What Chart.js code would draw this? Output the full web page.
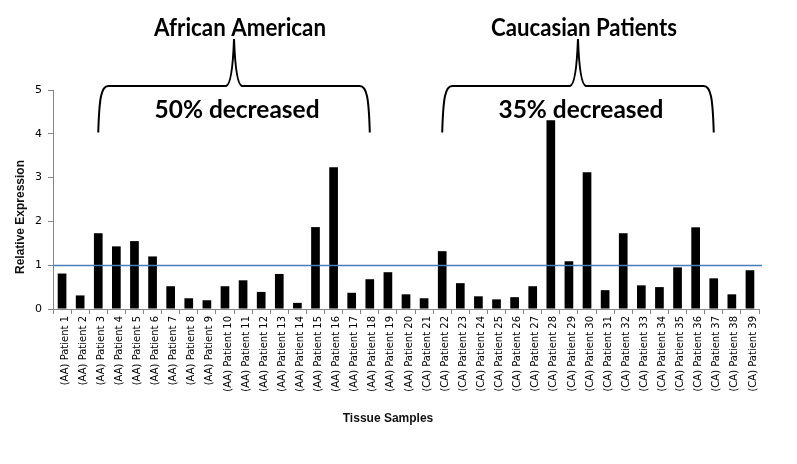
<!DOCTYPE html>
<html lang="en">
<head>
  <meta charset="UTF-8">
  <title>Relative Expression – Tissue Samples</title>
  <script src="https://cdn.jsdelivr.net/npm/chart.js"></script>
  <style>
    body { margin: 0; background: #fff; }
    canvas { display: block; }
  </style>
</head>
<body>
  <canvas id="chart" width="797" height="464"></canvas>

  <script>
    // data
    const categories = [
      '(AA) Patient 1', '(AA) Patient 2', '(AA) Patient 3', '(AA) Patient 4', '(AA) Patient 5',
      '(AA) Patient 6', '(AA) Patient 7', '(AA) Patient 8', '(AA) Patient 9', '(AA) Patient 10',
      '(AA) Patient 11', '(AA) Patient 12', '(AA) Patient 13', '(AA) Patient 14', '(AA) Patient 15',
      '(AA) Patient 16', '(AA) Patient 17', '(AA) Patient 18', '(AA) Patient 19', '(AA) Patient 20',
      '(CA) Patient 21', '(CA) Patient 22', '(CA) Patient 23', '(CA) Patient 24', '(CA) Patient 25',
      '(CA) Patient 26', '(CA) Patient 27', '(CA) Patient 28', '(CA) Patient 29', '(CA) Patient 30',
      '(CA) Patient 31', '(CA) Patient 32', '(CA) Patient 33', '(CA) Patient 34', '(CA) Patient 35',
      '(CA) Patient 36', '(CA) Patient 37', '(CA) Patient 38', '(CA) Patient 39'
    ];
    const expression = [
      0.81, 0.31, 1.73, 1.43, 1.55, 1.20, 0.52, 0.245, 0.20, 0.52,
      0.655, 0.39, 0.80, 0.14, 1.87, 3.235, 0.37, 0.68, 0.84, 0.335,
      0.245, 1.32, 0.59, 0.29, 0.22, 0.27, 0.52, 4.31, 1.09, 3.12,
      0.43, 1.73, 0.54, 0.50, 0.95, 1.865, 0.70, 0.335, 0.885
    ];
    const yTicks = [0, 1, 2, 3, 4, 5];
    const referenceLevel = 1;

    const groupTitles = ['African American', 'Caucasian Patients'];
    const groupNotes = ['50% decreased', '35% decreased'];
    const groupSpans = [[2, 17], [21, 36]];   // first / last category under each brace

    const xTitle = 'Tissue Samples';
    const yTitle = 'Relative Expression';

    function fitText(ctx, text, cx, baseline, width) {
      const w = ctx.measureText(text).width;
      ctx.save();
      ctx.translate(cx, baseline);
      ctx.scale(width / w, 1);
      ctx.textAlign = 'center';
      ctx.textBaseline = 'alphabetic';
      ctx.fillText(text, 0, 0);
      ctx.restore();
    }

    function brace(ctx, x0, x1, yb, yt, yp) {
      const xm = (x0 + x1) / 2;
      ctx.beginPath();
      ctx.moveTo(x0, yb);
      ctx.bezierCurveTo(x0 + 1, yt + 12, x0 + 3, yt, x0 + 10, yt);
      ctx.lineTo(xm - 8, yt);
      ctx.bezierCurveTo(xm - 3, yt - 1, xm - 1, yt - 20, xm, yp);
      ctx.bezierCurveTo(xm + 1, yt - 20, xm + 3, yt - 1, xm + 8, yt);
      ctx.lineTo(x1 - 10, yt);
      ctx.bezierCurveTo(x1 - 3, yt, x1 - 1, yt + 12, x1, yb);
      ctx.stroke();
    }

    const overlay = {
      id: 'overlay',
      afterDatasetsDraw(chart) {
        const { ctx, chartArea, scales: { x, y } } = chart;
        // reference line at 1
        const ly = Math.round(y.getPixelForValue(referenceLevel)) + 0.5;
        ctx.save();
        ctx.strokeStyle = '#4a7ebb';
        ctx.lineWidth = 1.3;
        ctx.beginPath();
        ctx.moveTo(chartArea.left, ly);
        ctx.lineTo(chartArea.right + 3, ly);
        ctx.stroke();
        ctx.restore();
      },
      afterDraw(chart) {
        const { ctx, scales: { x } } = chart;
        ctx.save();
        ctx.fillStyle = '#000';
        ctx.strokeStyle = '#000';
        ctx.lineWidth = 2;
        groupSpans.forEach((span, i) => {
          const x0 = x.getPixelForValue(span[0]);
          const x1 = x.getPixelForValue(span[1]);
          brace(ctx, x0, x1, 132.5, 86, 39);
          const cx = (x0 + x1) / 2;
          ctx.font = 'bold 24px Lato';
          fitText(ctx, groupTitles[i], cx + 6, 36, i === 0 ? 172 : 186);
          ctx.font = 'bold 25px Lato';
          fitText(ctx, groupNotes[i], cx + 3, 118, 165);
        });

        // axis titles
        ctx.fillStyle = '#111';
        ctx.font = 'bold 12px "Liberation Sans"';
        ctx.textAlign = 'center';
        ctx.textBaseline = 'middle';
        ctx.fillText(xTitle, 388, 419);
        ctx.translate(21, 217);
        ctx.rotate(-Math.PI / 2);
        ctx.fillText(yTitle, 0, 0);
        ctx.restore();
      }
    };

    new Chart(document.getElementById('chart'), {
      type: 'bar',
      data: {
        labels: categories,
        datasets: [{
          label: yTitle,
          data: expression,
          backgroundColor: '#000',
          categoryPercentage: 1,
          barPercentage: 0.48
        }]
      },
      options: {
        responsive: false,
        animation: false,
        devicePixelRatio: 1,
        layout: { padding: { top: 90, right: 38, left: 0, bottom: 0 } },
        plugins: {
          legend: { display: false },
          tooltip: { enabled: false }
        },
        scales: {
          x: {
            afterFit(scale) { scale.height = 155; },
            grid: { drawOnChartArea: false, tickLength: 5, color: '#868686', offset: true },
            border: { color: '#868686' },
            ticks: {
              autoSkip: false,
              minRotation: 90,
              maxRotation: 90,
              padding: 2,
              labelOffset: 3,
              color: '#000',
              font: { family: 'DejaVu Sans', size: 10 }
            }
          },
          y: {
            min: yTicks[0],
            max: yTicks[yTicks.length - 1],
            afterFit(scale) { scale.width = 53; },
            afterBuildTicks(scale) { scale.ticks = yTicks.map(v => ({ value: v })); },
            grid: { drawOnChartArea: false, tickLength: 5, color: '#868686' },
            border: { color: '#868686' },
            ticks: {
              padding: 6,
              color: '#000',
              font: { family: 'DejaVu Sans', size: 11 }
            }
          }
        }
      },
      plugins: [overlay]
    });
  </script>
</body>
</html>
